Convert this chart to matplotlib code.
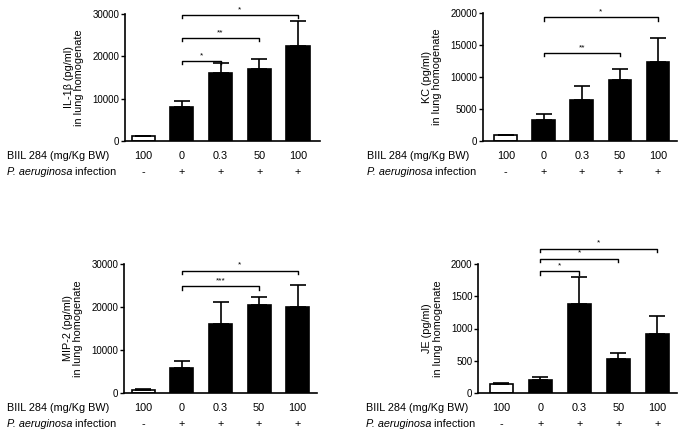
import matplotlib
matplotlib.use("Agg")
import matplotlib.pyplot as plt
from matplotlib.transforms import blended_transform_factory

plt.rcParams["font.family"] = ["Liberation Sans", "DejaVu Sans"]

doses = ["100", "0", "0.3", "50", "100"]
infection = ["-", "+", "+", "+", "+"]

il1b_mean = [1250, 7930, 16180, 17040, 22540]
il1b_err = [0, 1420, 2350, 2280, 5810]
kc_mean = [885, 3330, 6460, 9580, 12290]
kc_err = [105, 940, 2080, 1670, 3750]
mip2_mean = [620, 5840, 15970, 20490, 19950]
mip2_err = [240, 1640, 5150, 1800, 5220]
je_mean = [140, 197, 1373, 523, 907]
je_err = [15, 57, 420, 94, 290]

il1b_sig = [(1, 2, 18900, "*"), (1, 3, 24300, "**"), (1, 4, 29800, "*")]
kc_sig = [(1, 3, 13750, "**"), (1, 4, 19300, "*")]
mip2_sig = [(1, 3, 24800, "***"), (1, 4, 28450, "*")]
je_sig = [(1, 2, 1886, "*"), (1, 3, 2083, "*"), (1, 4, 2238, "*")]

# (ylabel, mean, err, sig, ymax, step, axes box in px, xlim, row label x in px)
panels = [
    ("IL-1\u03b2 (pg/ml)\nin lung homogenate", il1b_mean, il1b_err, il1b_sig, 30000, 10000,
     [125, 14, 320, 141], (-0.47, 4.57), 7),
    ("KC (pg/ml)\nin lung homogenate", kc_mean, kc_err, kc_sig, 20000, 5000,
     [483, 13, 677, 141], (-0.6, 4.5), 367),
    ("MIP-2 (pg/ml)\nin lung homogenate", mip2_mean, mip2_err, mip2_sig, 30000, 10000,
     [124, 264, 317, 393], (-0.5, 4.5), 7),
    ("JE (pg/ml)\nin lung homogenate", je_mean, je_err, je_sig, 2000, 500,
     [478, 264, 677, 393], (-0.6, 4.5), 366),
]

W, H = 686, 437
fig = plt.figure(figsize=(W / 100, H / 100), dpi=100)
fs = 7.8

for ylabel, mean, err, sig, ymax, step, box, xlim, lx in panels:
    x0, y0, x1, y1 = box
    ax = fig.add_axes([x0 / W, 1 - y1 / H, (x1 - x0) / W, (y1 - y0) / H])
    xs = list(range(len(mean)))
    colors = ["white"] + ["black"] * (len(mean) - 1)
    ax.bar(xs, mean, width=0.6, color=colors, edgecolor="black", linewidth=1.2)
    for i in xs:
        ax.errorbar(i, mean[i], yerr=[[0], [err[i]]], color="black", capsize=5.5,
                    elinewidth=1.2, capthick=1.2)
    ax.set_xlim(*xlim)
    ax.set_ylim(0, ymax)
    ax.set_yticks(range(0, ymax + 1, step))
    ax.set_xticks([])
    ax.spines["top"].set_visible(False)
    ax.spines["right"].set_visible(False)
    ax.spines["left"].set_linewidth(1.2)
    ax.spines["bottom"].set_linewidth(1.2)
    ax.tick_params(axis="y", labelsize=7, length=3, width=1.0, pad=1)
    ax.set_ylabel(ylabel, fontsize=7.8, labelpad=6, linespacing=1.05)

    # significance brackets
    tick = ymax * 0.025
    for a, b, y, s in sig:
        ax.plot([a, a, b, b], [y - tick, y, y, y - tick], color="black", lw=1.0,
                clip_on=False)
        ax.text((a + b) / 2, y + ymax * 0.015, s, ha="center", va="bottom",
                fontsize=6, clip_on=False)

    # row labels under the axis
    r1 = 1 - (y1 + 15) / H
    r2 = 1 - (y1 + 31) / H
    fig.text(lx / W, r1, "BIIL 284 (mg/Kg BW)", ha="left", va="center", fontsize=fs)
    t = fig.text(lx / W, r2, "P. aeruginosa", ha="left", va="center", fontsize=fs,
                 style="italic")
    ax.annotate(" infection", xy=(1, 0.5), xycoords=t, ha="left", va="center",
                fontsize=fs)
    trans = blended_transform_factory(ax.transData, fig.transFigure)
    for i in xs:
        ax.text(i, r1, doses[i], transform=trans, ha="center", va="center", fontsize=fs)
        ax.text(i, r2, infection[i], transform=trans, ha="center", va="center", fontsize=fs)

fig.savefig("out.png", dpi=100)
